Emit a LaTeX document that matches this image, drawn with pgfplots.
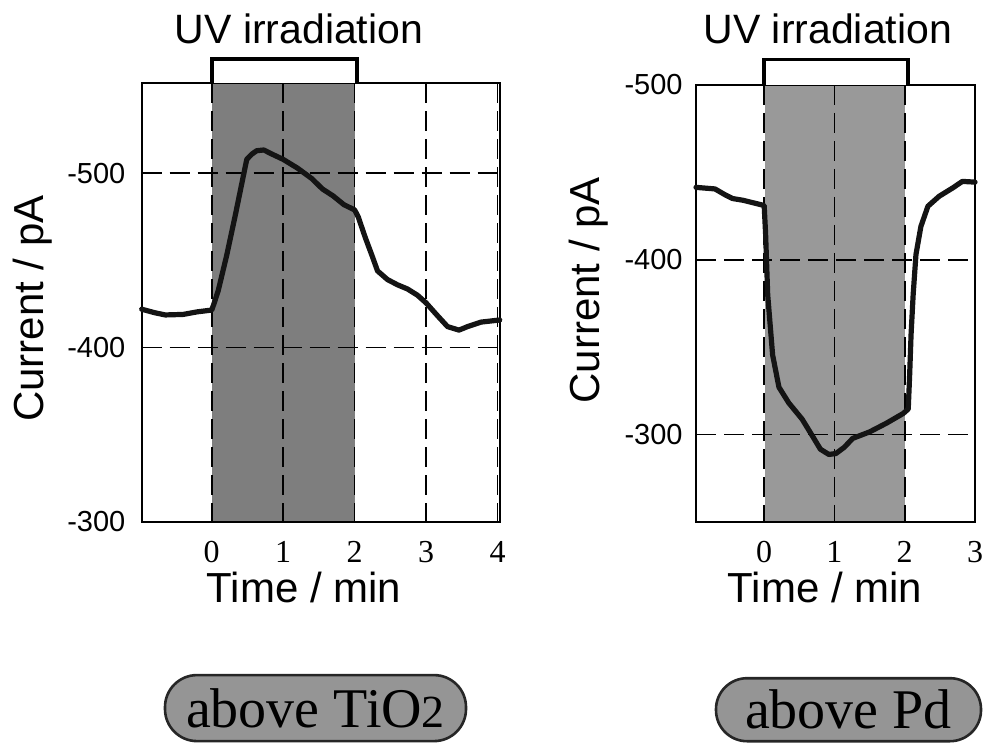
\documentclass[border=0pt]{standalone}
\usepackage{fontspec}
\setmainfont{Liberation Serif}
\setsansfont{Liberation Sans}
\usepackage{pgfplots}
\pgfplotsset{compat=1.18}
\definecolor{shadeL}{HTML}{7E7E7E}
\definecolor{shadeR}{HTML}{999999}
\definecolor{pill}{HTML}{959595}
\pgfplotsset{
  panel/.style={
    scale only axis, y dir=reverse, set layers, clip=false,
    axis line style={line width=1pt, black},
    major tick length=0pt, tick style={draw=none},
    grid=major,
    major grid style={dash pattern=on 10pt off 4pt, line width=0.85pt, black},
    xticklabel style={font=\fontsize{16}{16}\selectfont\rmfamily, anchor=center, yshift=-15pt},
    yticklabel style={font=\fontsize{14.5}{14.5}\selectfont\sffamily, anchor=east, inner sep=0pt},
    xlabel={Time / min}, ylabel={Current / pA},
    xlabel style={font=\fontsize{21}{21}\selectfont\sffamily, anchor=center},
    ylabel style={font=\fontsize{21}{21}\selectfont\sffamily, anchor=center},
    ytick={-500,-400,-300}, yticklabels={-500,-400,-300},
  },
  curve/.style={line width=2.6pt, black!92, line join=round, line cap=round},
}
\begin{document}
\begin{tikzpicture}
% ---------- left panel: above TiO2 ----------
\begin{axis}[panel,
  at={(0pt,0pt)}, anchor=south west,
  width=179pt, height=219.2pt,
  xmin=-0.98, xmax=4.03, ymin=-551.7, ymax=-300,
  xtick={0,1,2,3,4}, xticklabels={0,1,2,3,4},
  yticklabel style={xshift=-8pt},
  xlabel style={at={(axis description cs:0.453,-0.149)}},
  ylabel style={at={(axis description cs:-0.304,0.486)}},
]
\addplot[fill=shadeL, draw=none, on layer=axis background]
  coordinates {(0,-300) (0,-551.7) (2,-551.7) (2,-300)} -- cycle;
\addplot[curve] coordinates {
  (-0.98,-422) (-0.8,-420) (-0.65,-418.7) (-0.4,-419) (-0.2,-420.5) (0,-421.5)
  (0.03,-425) (0.09,-432.5) (0.21,-453) (0.33,-476) (0.42,-494) (0.49,-508)
  (0.56,-511) (0.63,-513) (0.73,-513.4) (0.83,-511.3) (1.0,-508) (1.2,-503)
  (1.4,-497) (1.55,-491) (1.7,-487) (1.85,-482) (2.0,-479) (2.05,-475)
  (2.15,-463) (2.25,-452) (2.32,-444) (2.46,-439) (2.6,-436) (2.74,-433.6)
  (2.88,-430) (3.0,-425.6) (3.15,-418.7) (3.3,-412) (3.46,-410) (3.58,-412)
  (3.77,-414.6) (4.03,-415.8)
};
\draw[line width=1.8pt, fill=white] (axis cs:0,-551.7) -- ([yshift=12pt]axis cs:0,-551.7)
  -- ([yshift=12pt]axis cs:2.03,-551.7) -- (axis cs:2.03,-551.7);
\node[font=\fontsize{20.5}{20.5}\selectfont\sffamily, anchor=base]
  at ([yshift=20pt]axis cs:1.22,-551.7) {UV irradiation};
\end{axis}
% ---------- right panel: above Pd ----------
\begin{axis}[panel,
  at={(277.15pt,0pt)}, anchor=south west,
  width=139.5pt, height=218.35pt,
  xmin=-0.97, xmax=3.0, ymin=-500, ymax=-250,
  xtick={0,1,2,3}, xticklabels={0,1,2,3},
  yticklabel style={xshift=-6.5pt},
  xlabel style={at={(axis description cs:0.462,-0.15)}},
  ylabel style={at={(axis description cs:-0.385,0.53)}},
]
\addplot[fill=shadeR, draw=none, on layer=axis background]
  coordinates {(0.01,-250) (0.01,-500) (2.01,-500) (2.01,-250)} -- cycle;
\addplot[curve] coordinates {
  (-0.97,-441.4) (-0.7,-440.5) (-0.55,-437) (-0.45,-435) (-0.3,-434) (0,-431)
  (0.02,-415) (0.05,-380) (0.12,-345.5) (0.21,-327) (0.35,-318) (0.54,-308.7)
  (0.68,-299.5) (0.8,-291.5) (0.92,-288.5) (1.02,-289) (1.14,-292.6) (1.26,-297.7)
  (1.5,-301.4) (1.74,-306.4) (1.98,-312) (2.05,-314.5) (2.07,-334) (2.09,-357)
  (2.12,-380) (2.16,-403) (2.23,-419) (2.33,-430.6) (2.49,-436.3) (2.68,-441)
  (2.82,-444.8) (3.0,-444.4)
};
\draw[line width=1.8pt, fill=white] (axis cs:0,-500) -- ([yshift=12.8pt]axis cs:0,-500)
  -- ([yshift=12.8pt]axis cs:2.05,-500) -- (axis cs:2.05,-500);
\node[font=\fontsize{20.5}{20.5}\selectfont\sffamily, anchor=base]
  at ([yshift=20.8pt]axis cs:0.906,-500) {UV irradiation};
\end{axis}
% ---------- bottom labels ----------
\node[draw=black!85, line width=1.3pt, fill=pill, rounded corners=16pt,
  minimum width=150.5pt, minimum height=33pt, inner sep=0pt,
  font=\fontsize{28}{28}\selectfont\rmfamily] at (86.9pt,-93.2pt)
  {above TiO{\fontsize{23}{23}\selectfont 2}};
\node[draw=black!85, line width=1.3pt, fill=pill, rounded corners=15.5pt,
  minimum width=132.5pt, minimum height=31.5pt, inner sep=0pt,
  font=\fontsize{28}{28}\selectfont\rmfamily] at (353.4pt,-94pt)
  {above Pd};
\pgfresetboundingbox
\path[use as bounding box] (-70.85pt,-110.65pt) rectangle (420.65pt,260.85pt);
\end{tikzpicture}
\end{document}
